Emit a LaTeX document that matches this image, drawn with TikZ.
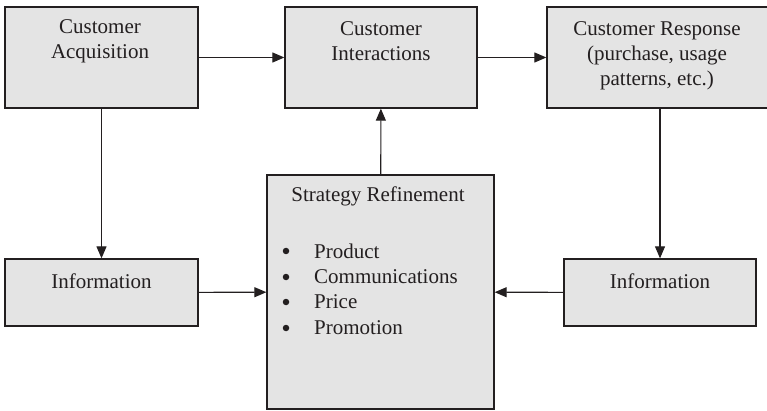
\documentclass[tikz,border=0pt]{standalone}
\usepackage{fontspec}
\setmainfont{Liberation Serif}
\usetikzlibrary{arrows.meta}
\definecolor{ink}{HTML}{231F20}
\definecolor{stip}{HTML}{E4E4E4}
\begin{document}
\begin{tikzpicture}[x=1pt,y=-1pt,
  box/.style={draw=ink, line width=1.3pt, fill=stip, inner sep=0pt, rectangle},
  txt/.style={font=\fontsize{21}{25}\selectfont, text=ink, align=center, inner sep=0pt},
  dot/.style={circle, fill=ink, inner sep=0pt, minimum size=6.5pt},
  conn/.style={draw=ink, line width=1.1pt, -{Triangle[length=12pt,width=10pt]}}]
\useasboundingbox (0,0) rectangle (767,411);
% boxes
\node[box, minimum width=193pt, minimum height=101pt] (CA) at (101.5,57.5) {};
\node[box, minimum width=192pt, minimum height=101pt] (CI) at (381,57.5) {};
\node[box, minimum width=221pt, minimum height=101pt] (CR) at (657.5,57.5) {};
\node[box, minimum width=193pt, minimum height=67pt] (LI) at (101.5,292.5) {};
\node[box, minimum width=192pt, minimum height=67pt] (RI) at (660,292.5) {};
\node[box, minimum width=227pt, minimum height=234pt] (ST) at (380.5,292) {};
% texts
\node[txt] (tCA) at (100,41) {Customer\\Acquisition};
\node[txt] (tCI) at (381,41) {Customer\\Interactions};
\node[txt] (tCR) at (657,56) {Customer Response\\(purchase, usage\\patterns, etc.)};
\node[txt] (tLI) at (101.5,281) {Information};
\node[txt] (tRI) at (660,281) {Information};
\node[txt] (tST) at (378,196) {Strategy Refinement};
\foreach \y/\w [count=\i] in {251/Product,277/Communications,302/Price,328/Promotion}{
  \node[dot] (b\i) at (286,\y) {};
  \node[txt, anchor=west] (l\i) at (314,\y) {\w};
}
% connectors
\draw[conn] (CA) -- (CI);
\draw[conn] (CI) -- (CR);
\draw[conn] (CA) -- (LI);
\draw[conn] (ST) -- (CI);
\draw[conn] (LI) -- (ST);
\draw[conn] (RI) -- (ST);
\draw[conn] (RI.north |- CR.south) -- (RI.north);
\end{tikzpicture}
\end{document}
